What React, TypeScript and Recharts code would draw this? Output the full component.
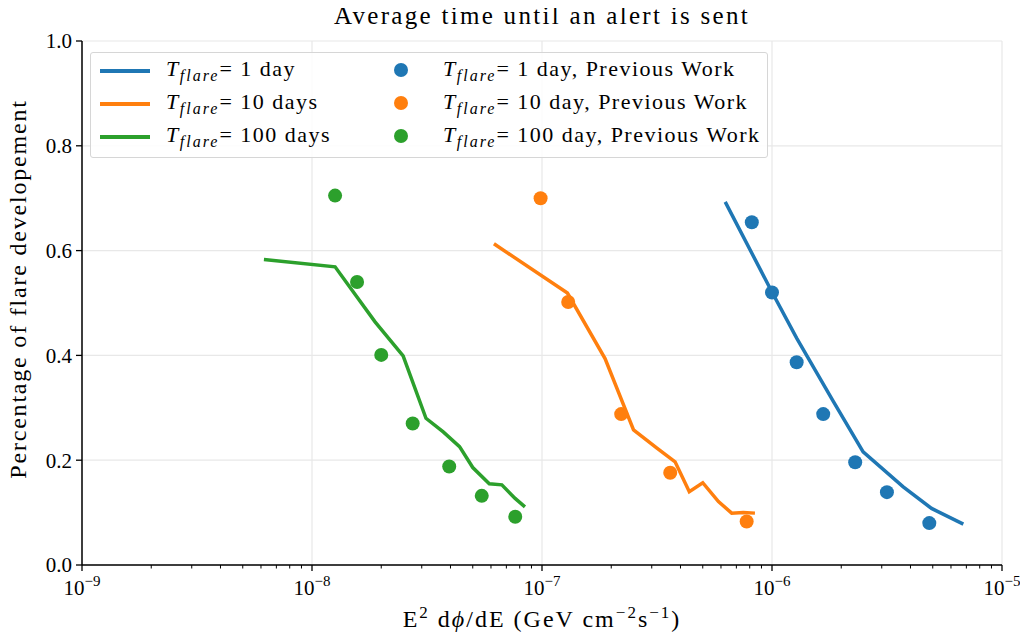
import React from "react";
import { ComposedChart, Line, Scatter, XAxis, YAxis, CartesianGrid, ReferenceLine, Legend } from "recharts";

const FONT = '"Liberation Serif", "DejaVu Serif", serif';

const colors = {
    day1: "#1f77b4",
    day10: "#ff7f0e",
    day100: "#2ca02c",
};

// our simulation, T_flare = 1 / 10 / 100 days
const day1LineX = [6.26e-7, 9.97e-7, 1.28e-6, 1.85e-6, 2.49e-6, 3.72e-6, 4.94e-6, 6.79e-6];
const day1LineY = [0.693, 0.522, 0.433, 0.312, 0.216, 0.149, 0.108, 0.078];

const day10LineX = [6.18e-8, 1.29e-7, 1.88e-7, 2.5e-7, 3.16e-7, 3.79e-7, 4.37e-7, 5.0e-7, 5.85e-7, 6.68e-7, 7.5e-7, 8.43e-7];
const day10LineY = [0.613, 0.519, 0.394, 0.258, 0.223, 0.197, 0.14, 0.157, 0.121, 0.099, 0.1, 0.099];

const day100LineX = [6.18e-9, 1.26e-8, 1.88e-8, 2.49e-8, 3.13e-8, 3.72e-8, 4.38e-8, 5.0e-8, 5.9e-8, 6.69e-8, 7.64e-8, 8.43e-8];
const day100LineY = [0.583, 0.569, 0.464, 0.399, 0.28, 0.254, 0.226, 0.186, 0.155, 0.153, 0.127, 0.111];

// previous work
const day1PrevX = [8.17e-7, 1.0e-6, 1.28e-6, 1.67e-6, 2.3e-6, 3.16e-6, 4.83e-6];
const day1PrevY = [0.654, 0.52, 0.387, 0.288, 0.196, 0.139, 0.08];

const day10PrevX = [9.86e-8, 1.3e-7, 2.21e-7, 3.61e-7, 7.76e-7];
const day10PrevY = [0.7, 0.502, 0.288, 0.176, 0.083];

const day100PrevX = [1.26e-8, 1.57e-8, 2.0e-8, 2.74e-8, 3.95e-8, 5.47e-8, 7.65e-8];
const day100PrevY = [0.705, 0.54, 0.401, 0.27, 0.188, 0.132, 0.092];

const majorTicks = [1e-9, 1e-8, 1e-7, 1e-6, 1e-5];
const minorFactors = [2, 3, 4, 5, 6, 7, 8, 9];
const yTicks = [0, 0.2, 0.4, 0.6, 0.8, 1.0];

const xTicks = [
    ...majorTicks,
    ...majorTicks.slice(0, -1).flatMap((m) => minorFactors.map((f) => f * m)),
].sort((a, b) => a - b);

const zip = (xs: number[], ys: number[]) => xs.map((x, i) => ({ x, y: ys[i] }));

const legendItems = [
    { label: "1 day", prev: "1 day, Previous Work", color: colors.day1 },
    { label: "10 days", prev: "10 day, Previous Work", color: colors.day10 },
    { label: "100 days", prev: "100 day, Previous Work", color: colors.day100 },
];

function XTick(props: any) {
    const { x, y, payload } = props;
    const v = payload.value;
    const exp = Math.round(Math.log10(v));
    const major = Math.abs(v - Math.pow(10, exp)) < v * 1e-6;
    return (
        <g>
            <line x1={x} x2={x} y1={y} y2={y + (major ? 6 : 3.5)} stroke="#000" strokeWidth={major ? 1.3 : 1} />
            {major && (
                <text x={x} y={y + 30} textAnchor="middle" fontFamily={FONT} fontSize={21} fill="#000">
                    10
                    <tspan dy={-9} fontSize={15}>{"\u2212" + -exp}</tspan>
                </text>
            )}
        </g>
    );
}

function Tflare() {
    return (
        <span>
            <i>T</i>
            <i style={{ fontSize: 16, position: "relative", top: 5, letterSpacing: 2 }}>flare</i>=
        </span>
    );
}

function renderLegend() {
    return (
        <div
            style={{
                position: "relative",
                width: 678,
                height: 106,
                boxSizing: "border-box",
                border: "1.5px solid #d6d6d6",
                borderRadius: 3,
                background: "rgba(255,255,255,0.85)",
                fontFamily: FONT,
                fontSize: 22,
                letterSpacing: 1.5,
                color: "#000",
            }}
        >
            {legendItems.map((item, i) => (
                <React.Fragment key={item.label}>
                    <div style={{ position: "absolute", left: 9, top: 16 + i * 33, width: 50, height: 3.5, background: item.color }} />
                    <div style={{ position: "absolute", left: 75, top: 3 + i * 33, whiteSpace: "nowrap", lineHeight: "26px" }}>
                        <Tflare /> {item.label}
                    </div>
                    <div style={{ position: "absolute", left: 303, top: 10 + i * 33, width: 14, height: 14, borderRadius: 7, background: item.color }} />
                    <div style={{ position: "absolute", left: 352, top: 3 + i * 33, whiteSpace: "nowrap", lineHeight: "26px" }}>
                        <Tflare /> {item.prev}
                    </div>
                </React.Fragment>
            ))}
        </div>
    );
}

const dot = (color: string) => (props: any) => <circle cx={props.cx} cy={props.cy} r={7} fill={color} />;

export default function App() {
    return (
        <div style={{ position: "relative", left: -8, top: -8, width: 1028, height: 635 }}>
            <div
                style={{
                    position: "absolute",
                    left: 82,
                    width: 920,
                    top: 2,
                    textAlign: "center",
                    fontFamily: FONT,
                    fontSize: 25,
                    letterSpacing: 2.3,
                    color: "#000",
                }}
            >
                Average time until an alert is sent
            </div>
            <ComposedChart width={1028} height={635} margin={{ top: 41, right: 26, bottom: 0, left: 22 }}>
                <CartesianGrid vertical={false} stroke="#e8e8e8" strokeWidth={1.2} />
                {majorTicks.map((t) => (
                    <ReferenceLine key={t} x={t} stroke="#e8e8e8" strokeWidth={1.2} />
                ))}
                <XAxis
                    dataKey="x"
                    type="number"
                    scale="log"
                    domain={[1e-9, 1e-5]}
                    allowDataOverflow
                    ticks={xTicks}
                    interval={0}
                    tick={<XTick />}
                    tickLine={false}
                    tickSize={0}
                    tickMargin={0}
                    height={70}
                    axisLine={{ stroke: "#000", strokeWidth: 1.5 }}
                    label={{
                        content: (p: any) => {
                            const vb = p.viewBox;
                            return (
                                <text x={vb.x + vb.width / 2} y={vb.y + 62} textAnchor="middle" fontFamily={FONT} fontSize={24} letterSpacing={2} fill="#000">
                                    E<tspan dy={-9} fontSize={17}>2</tspan>
                                    <tspan dy={9}> d</tspan>
                                    <tspan fontStyle="italic">ϕ</tspan>/dE (GeV cm
                                    <tspan dy={-9} fontSize={17}>{"\u22122"}</tspan>
                                    <tspan dy={9}>s</tspan>
                                    <tspan dy={-9} fontSize={17}>{"\u22121"}</tspan>
                                    <tspan dy={9}>)</tspan>
                                </text>
                            );
                        },
                    }}
                />
                <YAxis
                    type="number"
                    domain={[0, 1]}
                    ticks={yTicks}
                    width={60}
                    tickFormatter={(v: number) => v.toFixed(1)}
                    tick={{ fill: "#000", fontFamily: FONT, fontSize: 21 }}
                    tickLine={{ stroke: "#000", strokeWidth: 1.3 }}
                    tickSize={6}
                    tickMargin={4}
                    axisLine={{ stroke: "#000", strokeWidth: 1.5 }}
                    label={{
                        content: () => (
                            <text x={26} y={289} transform="rotate(-90 26 289)" textAnchor="middle" fontFamily={FONT} fontSize={24} letterSpacing={1.8} fill="#000">
                                Percentage of flare developement
                            </text>
                        ),
                    }}
                />
                <Legend
                    content={renderLegend}
                    layout="horizontal"
                    verticalAlign="middle"
                    align="center"
                    wrapperStyle={{ left: 90, top: 52, width: "auto" }}
                />

                <Line data={zip(day1LineX, day1LineY)} dataKey="y" stroke={colors.day1} strokeWidth={3.5} dot={false} isAnimationActive={false} />
                <Line data={zip(day10LineX, day10LineY)} dataKey="y" stroke={colors.day10} strokeWidth={3.5} dot={false} isAnimationActive={false} />
                <Line data={zip(day100LineX, day100LineY)} dataKey="y" stroke={colors.day100} strokeWidth={3.5} dot={false} isAnimationActive={false} />

                <Scatter data={zip(day1PrevX, day1PrevY)} dataKey="y" shape={dot(colors.day1)} isAnimationActive={false} />
                <Scatter data={zip(day10PrevX, day10PrevY)} dataKey="y" shape={dot(colors.day10)} isAnimationActive={false} />
                <Scatter data={zip(day100PrevX, day100PrevY)} dataKey="y" shape={dot(colors.day100)} isAnimationActive={false} />
            </ComposedChart>
        </div>
    );
}
